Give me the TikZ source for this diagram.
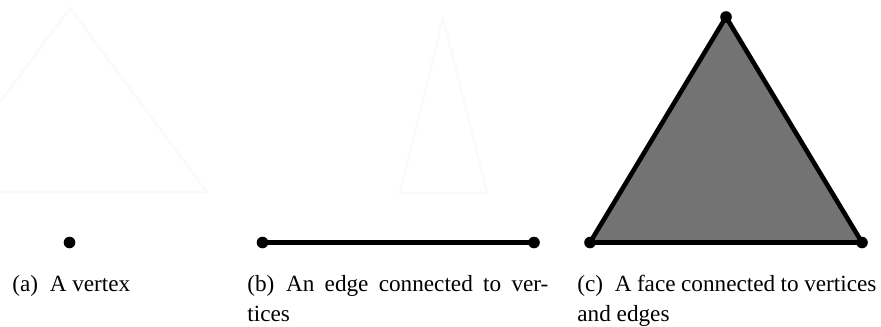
\documentclass[tikz,border=0pt]{standalone}
\usepackage{fontspec}
\setmainfont{Liberation Serif}
\tikzset{
  vtx/.style={circle, fill=black, inner sep=0pt, minimum size=5.8pt},
  edgeline/.style={line width=2.3pt, line cap=round, line join=round},
  faceshade/.style={fill=black!55},
  ghost/.style={draw=black!2, line width=1.1pt, line join=round},
  caption/.style={anchor=base west, inner sep=0pt, font=\fontsize{11.6pt}{15pt}\selectfont}
}
\begin{document}
\begin{tikzpicture}[x=0.5pt, y=-0.5pt]
\useasboundingbox (0,0) rectangle (881,326);
\fill[white] (0,0) rectangle (881,326);

% faint construction outlines
\begin{scope}
  \clip (0,0) rectangle (881,326);
  \draw[ghost] (-67,192) -- (70,8) -- (207,192) -- cycle;
  \draw[ghost] (400,193) -- (443,18) -- (487,193) -- cycle;
\end{scope}

% (a) a single vertex
\coordinate (pa) at (69.5,242.5);
\node[vtx] (va) at (pa) {};

% (b) an edge between two vertices
\coordinate (pb1) at (262.5,242.5);
\coordinate (pb2) at (534,242.5);
\draw[edgeline] (pb1) -- (pb2);
\node[vtx] (vb1) at (pb1) {};
\node[vtx] (vb2) at (pb2) {};

% (c) a face bounded by edges and vertices
\coordinate (pc1) at (590,242.5);
\coordinate (pc2) at (726,17);
\coordinate (pc3) at (862,242.5);
\draw[edgeline, faceshade] (pc1) -- (pc2) -- (pc3) -- cycle;
\node[vtx] (vc1) at (pc1) {};
\node[vtx] (vc2) at (pc2) {};
\node[vtx] (vc3) at (pc3) {};

% captions
\node[caption] (capa) at (12,291) {(a)\hspace{0.5em}A vertex};
\node[caption] (capb1) at (247,291) {\makebox[150.5pt][s]{(b)\hspace{0.5em}An edge connected to ver-}};
\node[caption] (capb2) at (247,321) {tices};
\node[caption] (capc1) at (577,291) {\makebox[149.5pt][s]{(c)\hspace{0.5em}A face connected to vertices}};
\node[caption] (capc2) at (577,321) {and edges};
\end{tikzpicture}
\end{document}
